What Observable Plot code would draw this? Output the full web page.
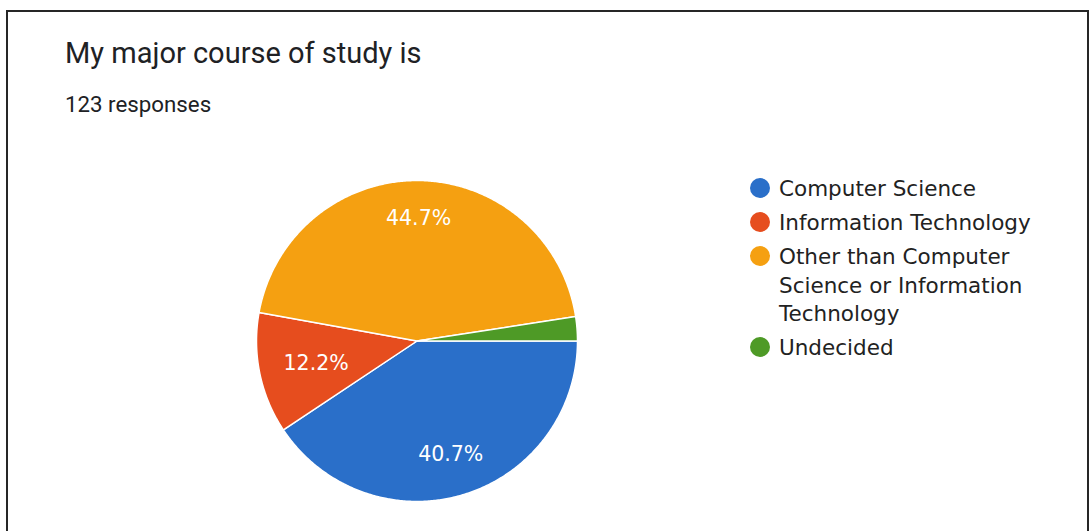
<!DOCTYPE html>
<html>
<head>
<meta charset="utf-8">
<script src="https://cdn.jsdelivr.net/npm/d3@7"></script>
<script src="https://cdn.jsdelivr.net/npm/@observablehq/plot@0.6"></script>
<style>
  html, body { margin: 0; padding: 0; background: #fff; overflow: hidden; }
  #page { position: relative; width: 1091px; height: 531px; overflow: hidden; background: #fff; }
  #chart { position: absolute; left: 0; top: 0; }
  #frame { position: absolute; left: 6px; top: 10px; width: 1083px; height: 600px; border: 2px solid #262626; box-sizing: border-box; pointer-events: none; }
  #title { position: absolute; left: 65px; top: 39px; font-family: Roboto, sans-serif; font-size: 29px; line-height: 29px; color: #202124; white-space: nowrap; }
  #subtitle { position: absolute; left: 65px; top: 93px; font-family: Roboto, sans-serif; font-size: 22.3px; line-height: 22.3px; color: #202124; white-space: nowrap; }
  #legend { position: absolute; left: 750px; top: 175px; width: 300px; font-family: "DejaVu Sans", sans-serif; font-size: 21.5px; line-height: 28.5px; color: #222; }
  .item { position: relative; padding-left: 29px; margin-bottom: 5.5px; max-width: 262px; }
  .dot { position: absolute; left: 0; top: 3px; width: 20px; height: 20px; border-radius: 50%; }
</style>
</head>
<body>
<div id="page">
  <div id="chart"></div>
  <div id="title"></div>
  <div id="subtitle"></div>
  <div id="legend"></div>
  <div id="frame"></div>
</div>
<script>
const titleText = "My major course of study is";
const responsesText = "123 responses";
const categories = [
  "Computer Science",
  "Information Technology",
  "Other than Computer Science or Information Technology",
  "Undecided"
];
const counts = [50, 15, 55, 3];
const colors = ["#2a6fc9", "#e64d1e", "#f5a011", "#4e9a26"];

document.getElementById("title").textContent = titleText;
document.getElementById("subtitle").textContent = responsesText;

const total = d3.sum(counts);
const pie = d3.pie().sort(null).value(d => d.count)
  .startAngle(Math.PI / 2).endAngle(Math.PI / 2 + 2 * Math.PI);
const rows = categories.map((cat, i) => ({cat, count: counts[i]}));
const arcs = pie(rows);

// polygon points for each slice, derived from the pie angles
const points = [];
arcs.forEach(a => {
  points.push({cat: a.data.cat, x: 0, y: 0});
  const n = Math.max(2, Math.ceil((a.endAngle - a.startAngle) / (Math.PI / 360)));
  for (let k = 0; k <= n; k++) {
    const t = a.startAngle + (a.endAngle - a.startAngle) * k / n;
    points.push({cat: a.data.cat, x: Math.sin(t), y: Math.cos(t)});
  }
});

// label placement: push the label box outward along the mid-angle
// until its farthest corner reaches 85% of the radius
const radiusPx = 160.5;
const labelSize = 20.5;
const ctx = document.createElement("canvas").getContext("2d");
ctx.font = labelSize + "px 'DejaVu Sans'";
const labels = arcs
  .filter(a => a.data.count / total >= 0.05)
  .map(a => {
    const text = (a.data.count / total * 100).toFixed(1) + "%";
    const hw = ctx.measureText(text).width / 2 / radiusPx;
    const hh = 0.73 * labelSize / 2 / radiusPx;
    const m = (a.startAngle + a.endAngle) / 2;
    const ux = Math.sin(m), uy = Math.cos(m);
    const far = d => Math.max(...[[1,1],[1,-1],[-1,1],[-1,-1]].map(([sx, sy]) =>
      Math.hypot(d * ux + sx * hw, d * uy + sy * hh)));
    let lo = 0, hi = 1;
    for (let k = 0; k < 40; k++) { const mid = (lo + hi) / 2; if (far(mid) < 0.85) lo = mid; else hi = mid; }
    return {x: lo * ux, y: lo * uy, text};
  });

const plot = Plot.plot({
  width: 1091,
  height: 531,
  marginLeft: 256,
  marginRight: 514,
  marginTop: 180,
  marginBottom: 30,
  x: {domain: [-1, 1], axis: null},
  y: {domain: [-1, 1], axis: null},
  color: {domain: categories, range: colors},
  style: {background: "transparent", overflow: "visible"},
  marks: [
    Plot.line(points, {x: "x", y: "y", z: "cat", fill: "cat", stroke: "#fff", strokeWidth: 1.5, curve: "linear-closed"}),
    Plot.text(labels, {x: "x", y: "y", text: "text", fill: "#fff", fontSize: labelSize, fontFamily: "DejaVu Sans", dy: 2})
  ]
});
document.getElementById("chart").appendChild(plot);

const legend = d3.select("#legend");
categories.forEach((cat, i) => {
  const item = legend.append("div").attr("class", "item");
  item.append("span").attr("class", "dot").style("background", colors[i]);
  item.append("span").text(cat);
});
</script>
</body>
</html>
